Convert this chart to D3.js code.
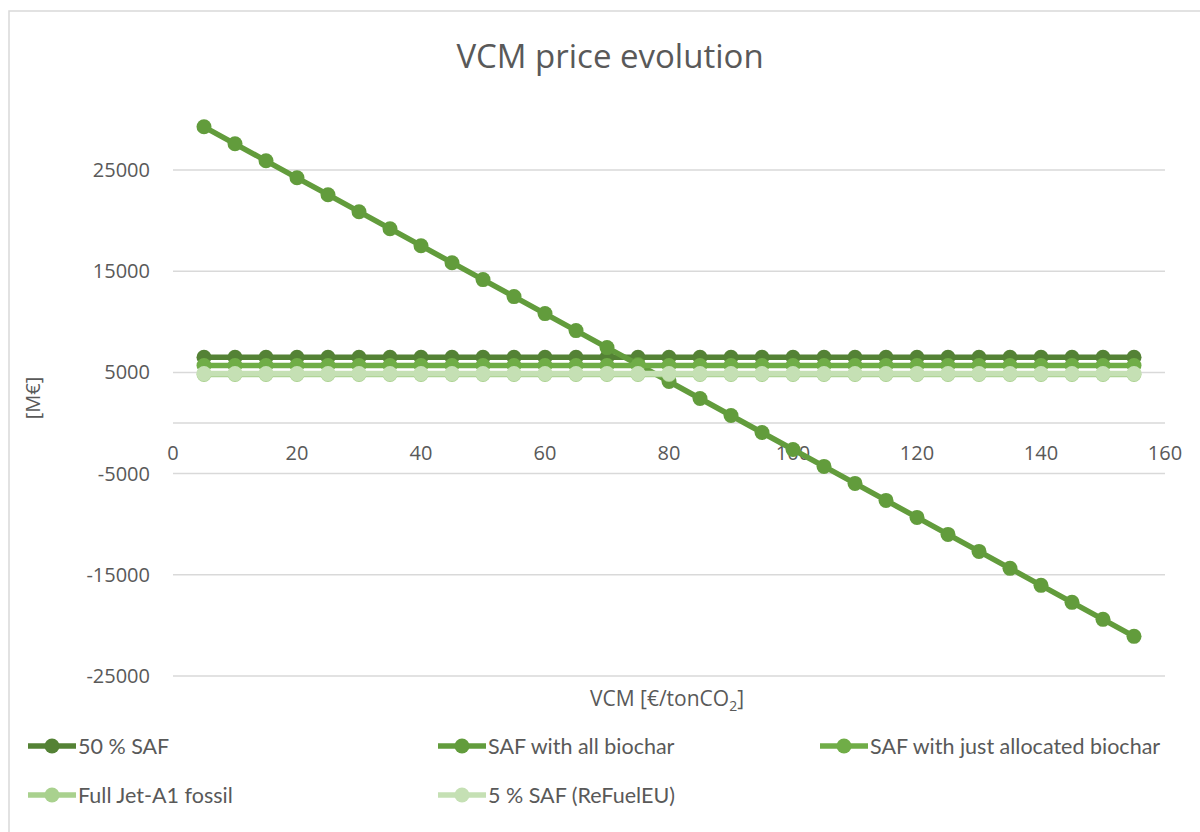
<!DOCTYPE html>
<html>
<head>
<meta charset="utf-8">
<script src="https://cdn.jsdelivr.net/npm/d3@7"></script>
<style>
  body { margin: 0; background: #ffffff; }
  svg { display: block; }
</style>
</head>
<body>
<div id="chart"></div>
<script>
// VCM price in €/tonCO2
var vcmPrice = [5, 10, 15, 20, 25, 30, 35, 40, 45, 50, 55, 60, 65, 70, 75, 80,
  85, 90, 95, 100, 105, 110, 115, 120, 125, 130, 135, 140, 145, 150, 155];

var saf50 = [6500, 6500, 6500, 6500, 6500, 6500, 6500, 6500, 6500, 6500, 6500,
  6500, 6500, 6500, 6500, 6500, 6500, 6500, 6500, 6500, 6500, 6500, 6500, 6500,
  6500, 6500, 6500, 6500, 6500, 6500, 6500];

var safAllBiochar = [29270, 27590, 25910, 24230, 22560, 20880, 19200, 17520,
  15840, 14170, 12490, 10810, 9130, 7450, 5780, 4100, 2420, 740, -940, -2620,
  -4290, -5970, -7650, -9330, -11010, -12690, -14360, -16040, -17720, -19400, -21080];

var safAllocBiochar = [5680, 5680, 5680, 5680, 5680, 5680, 5680, 5680, 5680,
  5680, 5680, 5680, 5680, 5680, 5680, 5680, 5680, 5680, 5680, 5680, 5680, 5680,
  5680, 5680, 5680, 5680, 5680, 5680, 5680, 5680, 5680];

var jetA1Fossil = [4800, 4800, 4800, 4800, 4800, 4800, 4800, 4800, 4800, 4800,
  4800, 4800, 4800, 4800, 4800, 4800, 4800, 4800, 4800, 4800, 4800, 4800, 4800,
  4800, 4800, 4800, 4800, 4800, 4800, 4800, 4800];

var saf5 = [4880, 4880, 4880, 4880, 4880, 4880, 4880, 4880, 4880, 4880, 4880,
  4880, 4880, 4880, 4880, 4880, 4880, 4880, 4880, 4880, 4880, 4880, 4880, 4880,
  4880, 4880, 4880, 4880, 4880, 4880, 4880];

var seriesNames = ["50 % SAF", "SAF with all biochar", "SAF with just allocated biochar",
  "Full Jet-A1 fossil", "5 % SAF (ReFuelEU)"];
var seriesValues = [saf50, safAllBiochar, safAllocBiochar, jetA1Fossil, saf5];
var seriesColors = ["#548235", "#629c3c", "#70ad47", "#a9d18e", "#c5e0b4"];

var xTicks = [0, 20, 40, 60, 80, 100, 120, 140, 160];
var yTicks = [25000, 15000, 5000, -5000, -15000, -25000];

function drawChart(){
  var W = 1200, H = 832;
  var svg = d3.select("#chart").append("svg").attr("width", W).attr("height", H);
  var font = "'Open Sans', 'Segoe UI', sans-serif";
  var legendFont = "Lato, 'Open Sans', sans-serif";
  var textColor = "#595959";
  var gridColor = "#d9d9d9";

  // chart border
  svg.append("rect").attr("x", 9).attr("y", 11).attr("width", W).attr("height", H)
    .attr("fill", "none").attr("stroke", gridColor).attr("stroke-width", 1.5);

  var x = d3.scaleLinear().domain([0, 160]).range([173, 1165]);
  var y = d3.scaleLinear().domain([-25000, 25000]).range([676, 170]);

  // title
  svg.append("text").attr("x", 610).attr("y", 68).attr("text-anchor", "middle")
    .style("font-family", font).style("font-size", "33px").attr("fill", textColor)
    .text("VCM price evolution");

  // gridlines
  svg.append("g").selectAll("line").data(yTicks).enter().append("line")
    .attr("x1", x(0)).attr("x2", x(160))
    .attr("y1", function(d){return y(d);}).attr("y2", function(d){return y(d);})
    .attr("stroke", gridColor).attr("stroke-width", 1.5);

  // horizontal axis at zero
  svg.append("line").attr("x1", x(0)).attr("x2", x(160)).attr("y1", y(0)).attr("y2", y(0))
    .attr("stroke", gridColor).attr("stroke-width", 1.5);

  // y tick labels
  svg.append("g").selectAll("text").data(yTicks).enter().append("text")
    .attr("x", 150).attr("y", function(d){return y(d);}).attr("dy", "0.35em")
    .attr("text-anchor", "end").style("font-family", font).style("font-size", "20px")
    .attr("fill", textColor).text(function(d){return d;});

  // x tick labels
  svg.append("g").selectAll("text").data(xTicks).enter().append("text")
    .attr("x", function(d){return x(d);}).attr("y", y(0) + 30).attr("dy", "0.35em")
    .attr("text-anchor", "middle").style("font-family", font).style("font-size", "20px")
    .attr("fill", textColor).text(function(d){return d;});

  // axis titles
  svg.append("text").attr("transform", "translate(40,398) rotate(-90)")
    .attr("text-anchor", "middle").style("font-family", font).style("font-size", "20px")
    .attr("fill", textColor).text("[M€]");

  var xt = svg.append("text").attr("x", 667).attr("y", 706).attr("text-anchor", "middle")
    .style("font-family", font).style("font-size", "21px").attr("fill", textColor);
  xt.append("tspan").text("VCM [€/tonCO");
  xt.append("tspan").attr("dy", 5).style("font-size", "14px").text("2");
  xt.append("tspan").attr("dy", -5).text("]");

  // series
  var line = d3.line()
    .x(function(d, i){return x(vcmPrice[i]);})
    .y(function(d){return y(d);});

  for(var s = 0; s < seriesValues.length; s++){
    var g = svg.append("g");
    g.append("path").datum(seriesValues[s]).attr("d", line)
      .attr("fill", "none").attr("stroke", seriesColors[s]).attr("stroke-width", 5.5)
      .attr("stroke-linejoin", "round");
    g.selectAll("circle").data(seriesValues[s]).enter().append("circle")
      .attr("cx", function(d, i){return x(vcmPrice[i]);})
      .attr("cy", function(d){return y(d);})
      .attr("r", 7.5).attr("fill", seriesColors[s]);
  }

  // legend
  var legendPos = [[28, 746], [438, 746], [820, 746], [28, 795], [438, 795]];
  for(var k = 0; k < seriesNames.length; k++){
    var lg = svg.append("g").attr("transform", "translate(" + legendPos[k][0] + "," + legendPos[k][1] + ")");
    lg.append("line").attr("x1", 0).attr("x2", 48).attr("y1", 0).attr("y2", 0)
      .attr("stroke", seriesColors[k]).attr("stroke-width", 5.5);
    lg.append("circle").attr("cx", 24).attr("cy", 0).attr("r", 7.5).attr("fill", seriesColors[k]);
    lg.append("text").attr("x", 50).attr("y", 0).attr("dy", "0.35em")
      .style("font-family", legendFont).style("font-size", "21.5px").attr("fill", textColor)
      .text(seriesNames[k]);
  }
}

drawChart();
</script>
</body>
</html>
